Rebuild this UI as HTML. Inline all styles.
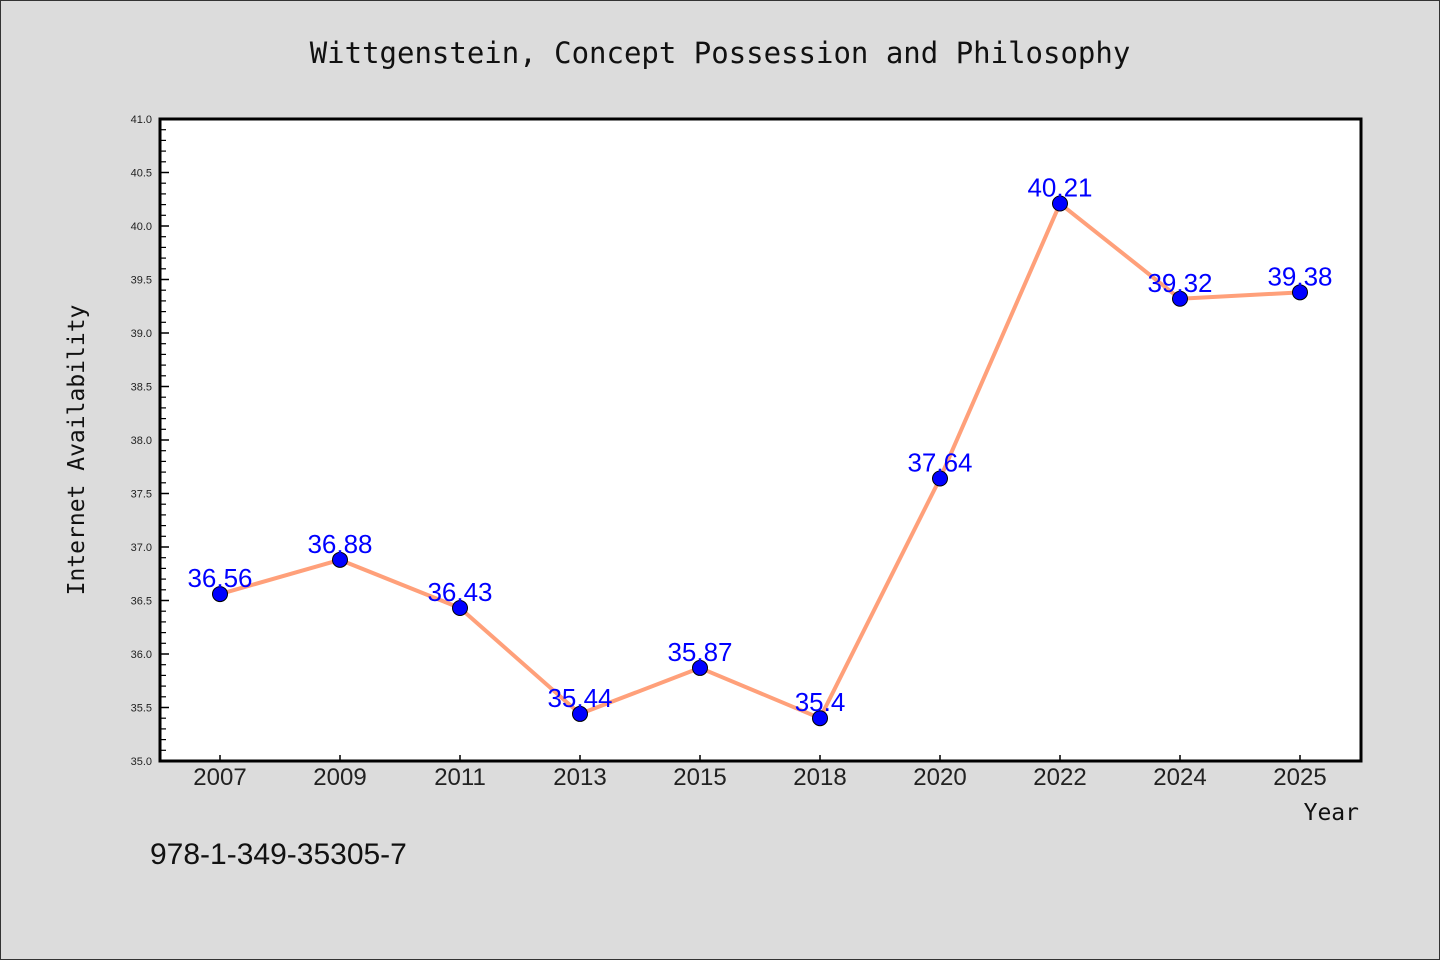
<!DOCTYPE html>
<html><head><meta charset="utf-8"><style>
html,body{margin:0;padding:0;background:#dcdcdc;}
svg{display:block;font-family:"Liberation Sans","DejaVu Sans",sans-serif;}
</style></head><body>
<svg id="chart" width="1440" height="960" xmlns="http://www.w3.org/2000/svg">
<rect x="0.5" y="0.5" width="1439" height="959" fill="#dcdcdc" stroke="#333" stroke-width="1"/>
<text x="720" y="63" text-anchor="middle" font-size="29" font-family="'DejaVu Sans Mono','Liberation Mono',monospace" fill="#111">Wittgenstein, Concept Possession and Philosophy</text>
<rect x="160" y="119" width="1201" height="642" fill="#fff"/>
<g id="ticks"></g>
<rect x="160" y="119" width="1201" height="642" fill="none" stroke="#000" stroke-width="3"/>
<text transform="translate(84,450) rotate(-90)" text-anchor="middle" font-size="23" font-family="'DejaVu Sans Mono','Liberation Mono',monospace" fill="#111">Internet Availability</text>
<text x="1359" y="820" text-anchor="end" font-size="23" font-family="'DejaVu Sans Mono','Liberation Mono',monospace" fill="#111">Year</text>
<text x="150" y="864" font-size="30" fill="#111">978-1-349-35305-7</text>
<g id="series"></g>
</svg>
<script>
const categories = ["2007","2009","2011","2013","2015","2018","2020","2022","2024","2025"];
const values = [36.56,36.88,36.43,35.44,35.87,35.4,37.64,40.21,39.32,39.38];
const labels = ["36.56","36.88","36.43","35.44","35.87","35.4","37.64","40.21","39.32","39.38"];
const yTicks = [35.0,35.5,36.0,36.5,37.0,37.5,38.0,38.5,39.0,39.5,40.0,40.5,41.0];
const yMin = 35, yMax = 41;
const L=160,R=1361,T=119,B=761;
const xS = i => 220 + i*120;
const yS = v => B - (v - yMin)/(yMax - yMin)*(B-T);
const NS="http://www.w3.org/2000/svg";
const tg=document.getElementById('ticks'), sg=document.getElementById('series');
function mk(tag,attrs,parent){const e=document.createElementNS(NS,tag);for(const k in attrs)e.setAttribute(k,attrs[k]);parent.appendChild(e);return e;}
yTicks.forEach((v,i)=>{
  const y=yS(v);
  const l=mk('line',{x1:L,x2:L+9,y1:y,y2:y,stroke:'#000','stroke-width':1.5},tg);
  
  
  const t=mk('text',{x:152,y:y+4,'text-anchor':'end','font-size':11,fill:'#222'},tg);
  t.textContent=v.toFixed(1);
  
  
  if(i<yTicks.length-1){for(let k=1;k<5;k++){const ym=yS(v+k*0.1);
    const m=mk('line',{x1:L,x2:L+6,y1:ym,y2:ym,stroke:'#000','stroke-width':1.2},tg);
    
    }}
});
categories.forEach((c,i)=>{
  const x=xS(i);
  const l=mk('line',{x1:x,x2:x,y1:B,y2:B-6,stroke:'#000','stroke-width':1.5},tg);
  
  
  const t=mk('text',{x:x,y:785,'text-anchor':'middle','font-size':24,fill:'#222'},tg);
  t.textContent=c;
  
  
});
const pl=mk('polyline',{points:values.map((v,i)=>xS(i)+','+yS(v)).join(' '),fill:'none',stroke:'#ffa07a','stroke-width':4,'stroke-linejoin':'round'},sg);


values.forEach((v,i)=>{
  const c=mk('circle',{cx:xS(i),cy:yS(v),r:7.5,fill:'#0000ff',stroke:'#000','stroke-width':1},sg);
  
  
});
values.forEach((v,i)=>{
  const t=mk('text',{x:xS(i),y:yS(v)-7,'text-anchor':'middle','font-size':26,fill:'#0000ff'},sg);
  t.textContent=labels[i];
  
  
});
</script>
</body></html>
